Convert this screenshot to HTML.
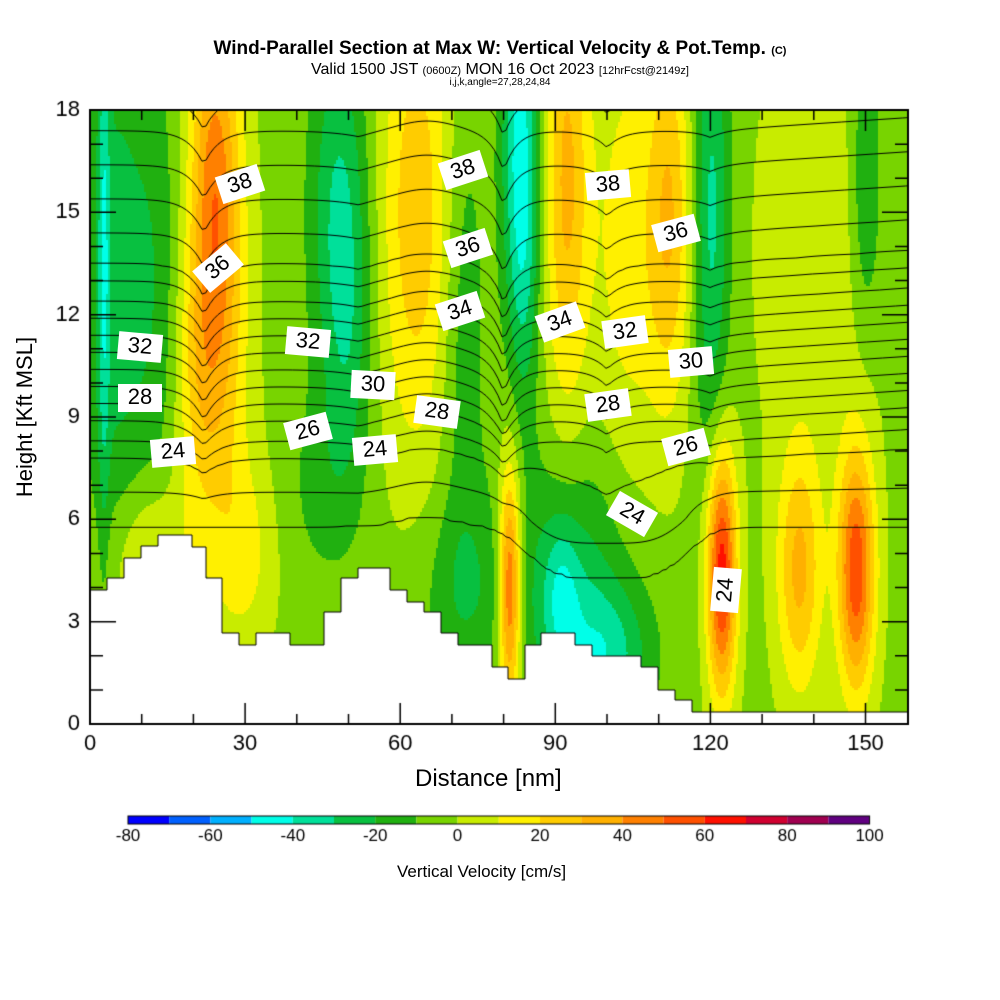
<!DOCTYPE html>
<html><head><meta charset="utf-8"><style>
body{margin:0;background:#fff;width:1000px;height:1000px;position:relative;overflow:hidden;font-family:"Liberation Sans",sans-serif}
.t{position:absolute;white-space:nowrap}
.lb{position:absolute;background:#fff;width:44px;height:28px;line-height:28px;text-align:center;font:22px "Liberation Sans",sans-serif;color:#000;transform-origin:center}
</style></head><body>
<div class="t" style="left:0;width:1000px;text-align:center;top:38px;font-weight:bold;font-size:19px">Wind-Parallel Section at Max W: Vertical Velocity &amp; Pot.Temp. <span style="font-size:11px">(C)</span></div>
<div class="t" style="left:0;width:1000px;text-align:center;top:61px;font-size:16px">Valid 1500 JST <span style="font-size:11px">(0600Z)</span> MON 16 Oct 2023 <span style="font-size:11px">[12hrFcst@2149z]</span></div>
<div class="t" style="left:0;width:1000px;text-align:center;top:77px;font-size:10px">i,j,k,angle=27,28,24,84</div>
<canvas id="c" width="1000" height="1000" style="position:absolute;left:0;top:0"></canvas>
<div id="labs"></div>
<div class="t" style="left:397px;top:862px;font-size:17px">Vertical Velocity [cm/s]</div>
<div class="t" style="left:415px;top:765px;font-size:24px">Distance [nm]</div>
<div class="t" style="left:-60px;top:404px;width:170px;text-align:center;font-size:22px;transform:rotate(-90deg)">Height [Kft MSL]</div>
<script>
const cv=document.getElementById('c'),ctx=cv.getContext('2d');
const X0=90,X1=908,Y0=110,Y1=724;
const px2nm=p=>(p-X0)/5.17, py2z=p=>(Y1-p)/34.1;
const sq=v=>v*v;
const cols=['#0000ff','#0060ff','#00b0ff','#00ffe8','#00e09a','#08c040','#20b010','#78d400','#c8ec00','#fff000','#ffcc00','#ffb000','#ff8000','#ff5000','#ff1000','#d00030','#a00050','#600080'];
const F=[[2.5,14,0.8,6,-22],[4,13,4,6,-20],[12,13,4,5,-15],[24,16,3.5,4,45],[25,10,4,4,20],[48,15,4,4,-28],[50,11,3,3,-12],
[63,15,5,5,30],[72,12,3,5,-15],[83,17,2.5,4,-40],[84,13,2,3,-12],[92,16,3,5,35],[104,14,5,5,18],[112,15,3,4,30],[120,15,2.5,5,-30],
[140,14,8,5,10],[150,16,2,3,-20],[81,4,1.5,2.5,60],[91,3.8,2.5,1.5,-20],[93,4,8,3,-22],[72,4,6,2,-15],[122,4.5,2,2.5,70],
[137,4.5,3,2.5,35],[148,4.5,2.5,2.5,60],[30,5,4,2,15],[10,4,6,2,8],[20,10,3,3,15],[100,2,6,1.5,-25],[12,5,5,1.5,12],[45,7,5,2,-10]];
function w(x,z){let v=-3;for(const f of F){const a=(x-f[0])/f[2],b=(z-f[1])/f[3];v+=f[4]*Math.exp(-(a*a+b*b)/2);}return v;}
const W=X1-X0,H=Y1-Y0;
const img=ctx.createImageData(W,H);
const rgb=cols.map(c=>[parseInt(c.substr(1,2),16),parseInt(c.substr(3,2),16),parseInt(c.substr(5,2),16)]);
for(let j=0;j<H;j+=2)for(let i=0;i<W;i+=2){let v=w(px2nm(X0+i),py2z(Y0+j));let k=Math.floor((v+80)/10);k=Math.max(0,Math.min(17,k));
 for(let dj=0;dj<2;dj++)for(let di=0;di<2;di++){if(j+dj>=H||i+di>=W)continue;const o=((j+dj)*W+i+di)*4;img.data[o]=rgb[k][0];img.data[o+1]=rgb[k][1];img.data[o+2]=rgb[k][2];img.data[o+3]=255;}}
ctx.putImageData(img,X0,Y0);
const B=[[0,22.3],[5.8,23],[6.8,24],[7.8,25],[8.3,26],[8.9,27],[9.4,28],[9.9,29],[10.4,30],[10.9,31],[11.4,32],[11.9,33],[12.4,34],[13,35],[13.5,36],[14.4,37],[15.4,38],[16.4,39],[17.4,40],[18.4,41],[30,50]];
function base(z){if(z<=0)return 22.3+z*0.1;for(let i=1;i<B.length;i++)if(z<=B[i][0]){const t=(z-B[i-1][0])/(B[i][0]-B[i-1][0]);return B[i-1][1]+t*(B[i][1]-B[i-1][1]);}return 50;}
function th(x,z){const g=Math.max(0,Math.min(1,(z-6)/3));let d=g*(1.0*Math.exp(-Math.abs(x-22)/3)+1.2*Math.exp(-Math.abs(x-80)/2.5)+0.5*Math.exp(-Math.abs(x-100)/3)+0.2*Math.exp(-Math.abs(x-52)/5)+0.2*Math.exp(-Math.abs(x-120)/3));
 d-=0.3*Math.exp(-sq((x-65)/8));d-=0.4*Math.max(0,(x-120)/40)*g;
 const lo=Math.max(0,Math.min(1,(8-z)/2));d+=lo*1.5*Math.exp(-sq(sq((x-100)/17)));
 return base(z+d);}
const S=4,nx=Math.ceil(W/S)+1,ny=Math.ceil(H/S)+1,G=[];
for(let j=0;j<ny;j++){G.push([]);for(let i=0;i<nx;i++)G[j].push(th(px2nm(X0+i*S),py2z(Y0+j*S)));}
ctx.strokeStyle='#000';ctx.lineWidth=1;ctx.save();ctx.beginPath();ctx.rect(X0,Y0,W,H);ctx.clip();ctx.beginPath();
for(let L=23;L<=41;L++){for(let j=0;j<ny-1;j++)for(let i=0;i<nx-1;i++){
 const a=G[j][i],b=G[j][i+1],c=G[j+1][i+1],dd=G[j+1][i];const x=X0+i*S,y=Y0+j*S;const p=[];
 const e=(v1,v2,x1,y1,x2,y2)=>{if((v1-L)*(v2-L)<0){const t=(L-v1)/(v2-v1);p.push([x1+t*(x2-x1),y1+t*(y2-y1)]);}};
 e(a,b,x,y,x+S,y);e(b,c,x+S,y,x+S,y+S);e(c,dd,x+S,y+S,x,y+S);e(dd,a,x,y+S,x,y);
 for(let k=0;k+1<p.length;k+=2){ctx.moveTo(p[k][0],p[k][1]);ctx.lineTo(p[k+1][0],p[k+1][1]);}}}
ctx.stroke();ctx.restore();
const T=[[90,590],[107,578],[124,558],[141,546],[158,535],[192,547],[206,578],[222,633],[239,645],[256,633],[290,645],[324,612],[341,578],[358,568],[390,590],[407,602],[424,612],[441,633],[458,645],[492,667],[508,679],[525,645],[541,633],[575,645],[592,656],[641,667],[658,690],[675,700],[692,712]];
ctx.fillStyle='#fff';ctx.beginPath();ctx.moveTo(X0,Y1);
for(let i=0;i<T.length;i++){const n2=i+1<T.length?T[i+1][0]:X1;ctx.lineTo(T[i][0],T[i][1]);ctx.lineTo(n2,T[i][1]);}
ctx.lineTo(X1,Y1);ctx.closePath();ctx.fill();ctx.strokeStyle='#000';ctx.stroke();
ctx.lineWidth=2;ctx.strokeRect(X0,Y0,W,H);ctx.lineWidth=1.5;ctx.beginPath();
for(let k=0;k<=18;k++){const y=Y1-k*34.11,l=k%3==0?26:13;ctx.moveTo(X0,y);ctx.lineTo(X0+l,y);ctx.moveTo(X1,y);ctx.lineTo(X1-l,y);}
for(let n=0;n<=158;n+=10){const x=X0+n*5.17,l=n%30==0?21:10;ctx.moveTo(x,Y1);ctx.lineTo(x,Y1-l);ctx.moveTo(x,Y0);ctx.lineTo(x,Y0+l);}
ctx.stroke();
ctx.fillStyle='#000';ctx.font='22px "Liberation Sans",sans-serif';ctx.textAlign='right';ctx.textBaseline='middle';
for(let k=0;k<=18;k+=3)ctx.fillText(String(k),80,Y1-k*34.11);
ctx.textAlign='center';ctx.textBaseline='top';for(let n=0;n<=150;n+=30)ctx.fillText(String(n),X0+n*5.17,733);
for(let k=0;k<18;k++){ctx.fillStyle=cols[k];ctx.fillRect(128+k*41.2,816,41.2,8);}
ctx.strokeStyle='#000';ctx.lineWidth=1;ctx.strokeRect(128,816,741.6,8);
ctx.fillStyle='#000';ctx.font='17px "Liberation Sans",sans-serif';
for(let k=0;k<=18;k+=2)ctx.fillText(String(-80+k*10),128+k*41.2,828);
const LB=[[38,240,184,-18],[36,218,268,-40],[32,140,347,5],[28,140,398,0],[24,173,452,-5],[32,308,342,5],[26,308,431,-15],[30,373,385,3],[24,375,450,-5],[28,437,412,8],[34,460,311,-18],[36,468,248,-18],[38,463,170,-18],[34,560,322,-20],[38,608,185,-5],[36,676,233,-15],[32,625,332,-8],[30,691,362,-5],[28,608,405,-8],[26,686,447,-15],[24,632,514,30],[24,726,590,-85]];
let h='';for(const l of LB)h+='<div class="lb" style="left:'+(l[1]-22)+'px;top:'+(l[2]-14)+'px;transform:rotate('+l[3]+'deg)">'+l[0]+'</div>';
document.getElementById('labs').innerHTML=h;
</script>
</body></html>
